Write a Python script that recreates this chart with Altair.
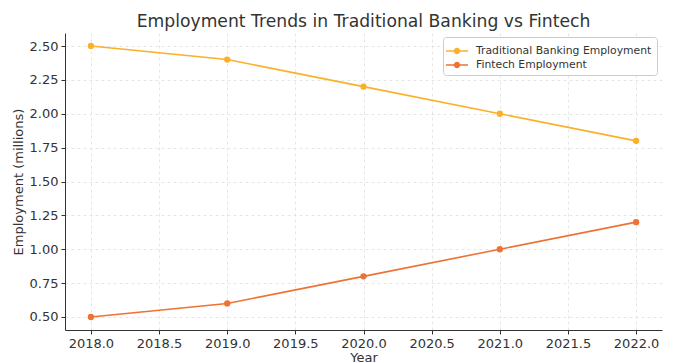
import altair as alt
import pandas as pd

years = [2018, 2019, 2020, 2021, 2022]
traditional = [2.5, 2.4, 2.2, 2.0, 1.8]
fintech = [0.5, 0.6, 0.8, 1.0, 1.2]
series_names = ["Traditional Banking Employment", "Fintech Employment"]
colors = ["#FBB02A", "#EE7234"]
x_ticks = [2018.0, 2018.5, 2019.0, 2019.5, 2020.0, 2020.5, 2021.0, 2021.5, 2022.0]
y_ticks = [0.5, 0.75, 1.0, 1.25, 1.5, 1.75, 2.0, 2.25, 2.5]

rows = []
for y, t, f in zip(years, traditional, fintech):
    rows.append({"Year": y, "Employment": t, "Series": series_names[0]})
    rows.append({"Year": y, "Employment": f, "Series": series_names[1]})
df = pd.DataFrame(rows)

font = "DejaVu Sans"

legend_symbol = ("M-1.3,-0.1L-0.33,-0.1L-0.33,0.1L-1.3,0.1Z "
                 "M0.33,-0.1L1.3,-0.1L1.3,0.1L0.33,0.1Z "
                 "M-0.37,0A0.37,0.37 0 1,1 0.37,0A0.37,0.37 0 1,1 -0.37,0Z")

legend = alt.Legend(title=None, orient="none", legendX=378, legendY=4,
                    symbolType=legend_symbol, symbolSize=290,
                    symbolStrokeWidth=0, symbolOpacity=1,
                    labelFont=font, labelFontSize=10.8, labelColor="#333",
                    labelLimit=400, labelOffset=10,
                    fillColor="white", strokeColor="#cccccc", padding=5,
                    cornerRadius=3, rowPadding=0)

x = alt.X("Year:Q", scale=alt.Scale(domain=[2017.81, 2022.19], nice=False, zero=False),
          axis=alt.Axis(values=x_ticks, format=".1f", title="Year", titlePadding=1))
y = alt.Y("Employment:Q", scale=alt.Scale(domain=[0.404, 2.596], nice=False, zero=False),
          axis=alt.Axis(values=y_ticks, format=".2f", title="Employment (millions)", titlePadding=4))
cscale = alt.Scale(domain=series_names, range=colors)

lines = alt.Chart(df).mark_line(strokeWidth=1.6).encode(
    x=x, y=y, color=alt.Color("Series:N", scale=cscale, sort=series_names, legend=legend))
points = alt.Chart(df).mark_circle(size=40, opacity=1).encode(
    x=x, y=y, color=alt.Color("Series:N", scale=cscale, sort=series_names, legend=legend))

chart = alt.layer(lines, points).properties(
    width=597, height=297,
    title=alt.Title("Employment Trends in Traditional Banking vs Fintech", font=font,
                    fontSize=17.2, fontWeight="normal", color="#333", anchor="middle", offset=3),
    autosize="none",
    padding={"left": 57, "top": 25, "right": 4, "bottom": 33},
).configure_view(stroke=None).configure_axis(
    labelFont=font, titleFont=font, labelFontSize=13, titleFontSize=13,
    titleFontWeight="normal", labelColor="#333", titleColor="#333",
    gridDash=[3, 3], gridColor="#e0e0e0", gridWidth=0.8,
    domainColor="#333", tickColor="#333", tickSize=4, domainWidth=1,
    labelPadding=3,
)

chart.save("out.html", embed_options={"renderer": "svg", "actions": False})
